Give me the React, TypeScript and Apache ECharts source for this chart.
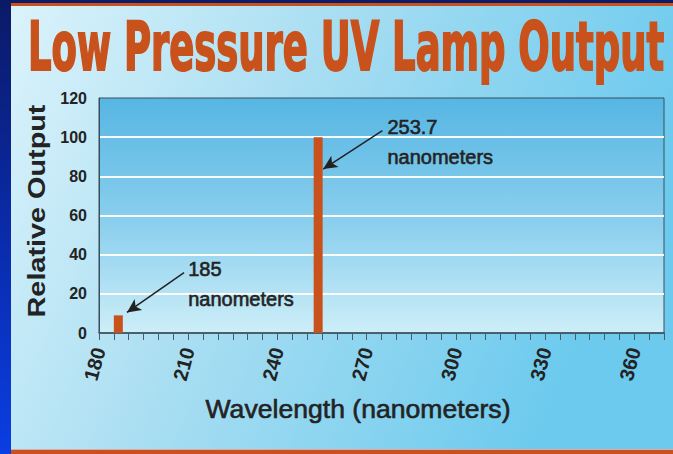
import { useEffect, useRef } from 'react';
import * as echarts from 'echarts';

// ---- chart content ----
const titleText = 'Low Pressure UV Lamp Output';
const xAxisTitle = 'Wavelength (nanometers)';
const yAxisTitle = 'Relative Output';

const peakWavelengths = [186.5, 253.7];
const peakOutputs = [9, 100];
const peakLabels = ['185', '253.7'];
const peakUnits = ['nanometers', 'nanometers'];

const xMin = 180;
const xMax = 370;
const xStep = 5;
const xLabelStep = 30;
const yMin = 0;
const yMax = 120;
const yStep = 20;

// annotation anchors, in data coordinates
const labelAnchors = [
  [210, 32.9],
  [277, 105.2],
];
const arrowStarts = [
  [208.6, 30.8],
  [275.3, 103.4],
];
const arrowTips = [
  [189.4, 10.5],
  [255.4, 83.7],
];

const W = 673;
const H = 454;
const ORANGE = '#c9521c';
const TEXT = '#232323';
const SANS = '"Liberation Sans", Arial, Helvetica, sans-serif';
const NARROW = '"Liberation Sans Narrow", "DejaVu Sans Condensed", "Liberation Sans", Arial, sans-serif';

export default function App() {
  const ref = useRef<HTMLDivElement>(null);

  useEffect(() => {
    const el = ref.current!;
    const chart = echarts.init(el, null, { renderer: 'svg', width: W, height: H });

    const canvas = document.createElement('canvas');
    const ctx = canvas.getContext('2d')!;
    const measure = (font: string, text: string) => {
      ctx.font = font;
      return ctx.measureText(text).width || 1;
    };

    const titleFont = `bold 68px ${NARROW}`;
    const titleScale = 636 / measure(titleFont, titleText);
    const yTitleFont = `bold 23px ${SANS}`;
    const yTitleScale = 213 / measure(yTitleFont, yAxisTitle);
    const xTitleFont = `26px ${SANS}`;
    const xTitleScale = 305 / measure(xTitleFont, xAxisTitle);

    const background: any[] = [
      { type: 'rect', id: 'bg', z: -20, silent: true, shape: { x: 0, y: 0, width: W, height: H }, style: { fill: '#0c1c6c' } },
      {
        type: 'rect', id: 'leftStrip', z: -19, silent: true,
        shape: { x: 0, y: 0, width: 11, height: H },
        style: {
          fill: new echarts.graphic.LinearGradient(0, 0, 0, 1, [
            { offset: 0, color: '#0b1a66' },
            { offset: 0.5, color: '#0a2aa8' },
            { offset: 1, color: '#0a3ee2' },
          ]),
        },
      },
      { type: 'rect', id: 'topLine', z: -19, silent: true, shape: { x: 11, y: 3, width: W - 11, height: 3 }, style: { fill: ORANGE } },
      {
        type: 'rect', id: 'panel', z: -19, silent: true,
        shape: { x: 11, y: 6, width: W - 11, height: 443 },
        style: {
          fill: new echarts.graphic.LinearGradient(0, 0, 1, 0.3, [
            { offset: 0, color: '#dbf3fb' },
            { offset: 0.45, color: '#a9def2' },
            { offset: 1, color: '#6ccaee' },
          ]),
        },
      },
      { type: 'rect', id: 'botThin', z: -19, silent: true, shape: { x: 11, y: 449, width: W - 11, height: 1 }, style: { fill: '#d9a8b0' } },
      { type: 'rect', id: 'botLine', z: -19, silent: true, shape: { x: 11, y: 450, width: W - 11, height: 4 }, style: { fill: ORANGE } },
      {
        type: 'text', id: 'title', z: 50, x: 28, y: 46, scaleX: titleScale,
        style: { text: titleText, font: titleFont, fill: ORANGE, stroke: ORANGE, lineWidth: 2, align: 'left', verticalAlign: 'middle' },
      },
      {
        type: 'text', id: 'yTitle', z: 50, x: 37, y: 211, rotation: Math.PI / 2, scaleX: yTitleScale,
        style: { text: yAxisTitle, font: yTitleFont, fill: TEXT, align: 'center', verticalAlign: 'middle' },
      },
      {
        type: 'text', id: 'xTitle', z: 50, x: 358, y: 409, scaleX: xTitleScale,
        style: { text: xAxisTitle, font: xTitleFont, fill: TEXT, stroke: TEXT, lineWidth: 0.6, align: 'center', verticalAlign: 'middle' },
      },
    ];

    const makeOption = (graphic: any[]) => ({
      animation: false,
      backgroundColor: '#0c1c6c',
      grid: {
        left: 99,
        right: 9,
        top: 98,
        bottom: 121,
        containLabel: false,
        show: true,
        borderColor: '#3a4e5a',
        borderWidth: 1,
        backgroundColor: new echarts.graphic.LinearGradient(0, 0, 0, 1, [
          { offset: 0, color: '#56b6e3' },
          { offset: 0.55, color: '#8dd0ee' },
          { offset: 1, color: '#cdeef8' },
        ]),
      },
      xAxis: {
        type: 'value',
        min: xMin,
        max: xMax,
        interval: xStep,
        axisLine: { show: true, lineStyle: { color: '#3a4e5a', width: 1.5 } },
        axisTick: { show: true, length: 7, lineStyle: { color: '#4a5c68', width: 1 } },
        splitLine: { show: false },
        axisLabel: {
          rotate: 75,
          margin: 15,
          color: TEXT,
          fontFamily: SANS,
          fontWeight: 'bold',
          fontSize: 20,
          formatter: (v: number) => (Math.round(v) % xLabelStep === 0 ? String(v) : ''),
        },
      },
      yAxis: {
        type: 'value',
        min: yMin,
        max: yMax,
        interval: yStep,
        axisLine: { show: true, lineStyle: { color: '#3a4e5a', width: 1 } },
        axisTick: { show: false },
        axisLabel: { margin: 12, color: TEXT, fontFamily: SANS, fontWeight: 'bold', fontSize: 16 },
        splitLine: {
          show: true,
          showMinLine: false,
          showMaxLine: false,
          lineStyle: { color: 'rgba(255,255,255,0.95)', width: 2 },
        },
      },
      series: [
        {
          type: 'bar',
          barWidth: 9,
          itemStyle: { color: ORANGE },
          data: peakWavelengths.map((w, i) => [w, peakOutputs[i]]),
          markLine: {
            silent: true,
            symbol: ['none', 'arrow'],
            symbolSize: [10, 14],
            label: { show: false },
            emphasis: { disabled: true },
            lineStyle: { color: '#222', width: 1.5, type: 'solid' },
            data: arrowStarts.map((s, i) => [{ coord: s }, { coord: arrowTips[i] }]),
          },
        },
      ],
      graphic,
    });

    chart.setOption(makeOption(background));

    const annotations: any[] = [];
    peakLabels.forEach((lab, i) => {
      const p = chart.convertToPixel({ gridIndex: 0 }, labelAnchors[i]) as number[];
      annotations.push({
        type: 'text', id: `peak${i}`, z: 60, x: p[0], y: p[1],
        style: { text: lab, font: `20px ${SANS}`, fill: TEXT, stroke: TEXT, lineWidth: 0.6, align: 'left', verticalAlign: 'middle' },
      });
      annotations.push({
        type: 'text', id: `unit${i}`, z: 60, x: p[0], y: p[1] + 30,
        style: { text: peakUnits[i], font: `20px ${SANS}`, fill: TEXT, stroke: TEXT, lineWidth: 0.6, align: 'left', verticalAlign: 'middle' },
      });
    });

    chart.setOption(makeOption([...background, ...annotations]), { notMerge: true });

    return () => chart.dispose();
  }, []);

  return <div ref={ref} style={{ position: 'fixed', left: 0, top: 0, width: W, height: H }} />;
}
